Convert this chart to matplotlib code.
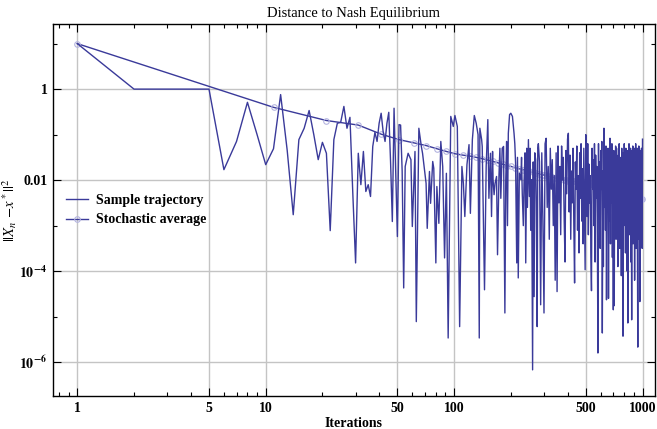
import matplotlib
matplotlib.use('Agg')
import matplotlib.pyplot as plt
import numpy as np
from matplotlib.ticker import FixedLocator, FixedFormatter, NullFormatter

# sample trajectory, iterations 1..280 (read point by point, log10 of the distance)
head_n = [1, 2, 3, 4, 5, 6, 7, 8, 9, 10,
          11, 12, 13, 14, 15, 16, 17, 18, 19, 20,
          21, 22, 23, 24, 25, 26, 27, 28, 29, 30,
          31, 32, 33, 34, 35, 36, 37, 38, 39, 40,
          41, 42, 43, 44, 45, 46, 47, 48, 49, 50,
          51, 52, 53, 54, 55, 57, 59, 60, 62, 63,
          65, 67, 68, 69, 71, 72, 74, 75, 77, 78,
          80, 81, 83, 85, 87, 89, 91, 93, 96, 99,
          101, 104, 107, 110, 112, 114, 117, 120, 122, 125,
          128, 131, 134, 136, 137, 140, 141, 145, 148, 151,
          153, 156, 158, 160, 161, 163, 165, 168, 170, 173,
          175, 177, 180, 183, 186, 188, 190, 192, 194, 197,
          200, 204, 208, 210, 212, 215, 217, 219,
          222, 226, 228, 230, 233, 235, 238, 240, 243, 245,
          248, 251, 253, 255, 258, 261, 263, 266, 268, 271,
          273, 276, 278, 280]
head_exp = [1.0, 0.0, 0.0, 0.0, 0.0, -1.77, -1.15, -0.29, -1.0, -1.66,
            -1.31, -0.12, -1.34, -2.76, -1.11, -0.86, -0.47, -1.0, -1.55, -1.17,
            -1.41, -3.11, -1.11, -0.75, -0.73, -0.38, -0.86, -0.62, -2.3, -3.82,
            -1.41, -2.1, -1.37, -2.25, -2.1, -2.36, -1.26, -0.95, -1.15, -0.75,
            -0.53, -0.93, -1.15, -0.75, -0.51, -1.6, -2.91, -0.42, -1.8, -3.24,
            -0.78, -0.79, -1.8, -4.37, -1.70, -1.41, -1.55, -3.02, -1.37, -5.11,
            -0.86, -1.26, -1.41, -1.63, -2.07, -3.06, -1.81, -2.51, -1.59, -1.74,
            -3.82, -2.14, -2.95, -1.15, -1.70, -3.71, -1.85, -5.47, -0.60, -0.82,
            -0.58, -0.82, -5.22, -1.70, -2.07, -2.80, -1.66, -1.22, -2.73, -1.11,
            -0.58, -0.75, -1.0, -5.47, -0.86, -1.11, -1.26, -4.41, -1.70, -0.67,
            -2.40, -1.41, -2.8, -1.37, -1.99, -2.32, -2.07, -1.92, -3.64, -1.92,
            -1.3, -2.40, -1.30, -1.26, -4.92, -2.0, -1.15, -3.0, -0.97, -0.56,
            -0.53, -0.60, -0.97, -1.2, -1.63, -3.82, -1.5, -4.15,
            -1.85, -1.99, -1.5, -2.29, -3.0, -2.07, -1.4, -3.82, -1.30, -2.6,
            -1.11, -2.36, -1.3, -3.1, -1.99, -6.17, -1.6, -4.56, -1.4, -1.55,
            -2.5, -5.22, -1.3, -1.2]

# sample trajectory, every 4th iteration from 284 to 1000
tail_n = list(range(284, 1001, 4))
tail_exp = [-1.6, -4.74, -1.4, -2.9, -4.92, -1.2, -1.08, -2.6, -1.7, -3.3,
            -1.3, -2.2, -1.55, -3.0, -1.9, -4.2, -1.4, -4.45, -1.25, -2.5,
            -1.7, -3.2, -1.25, -2.0, -1.5, -2.9, -3.8, -1.35, -2.3, -1.1,
            -0.97, -2.7, -1.45, -3.3, -1.8, -2.5, -1.3, -3.0, -4.26, -1.6,
            -2.2, -1.25, -3.1, -1.9, -3.6, -1.4, -2.4, -1.2, -2.9, -1.75,
            -3.4, -1.3, -2.6, -3.97, -1.0, -1.5, -2.8, -1.2, -3.2, -1.65,
            -2.5, -1.9, -3.6, -4.43, -1.3, -2.2, -1.55, -3.0, -1.2, -3.8,
            -1.45, -2.4, -1.7, -3.3, -5.8, -1.2, -2.7, -1.6, -3.5, -1.35,
            -2.2, -1.15, -5.36, -1.8, -3.9, -0.86, -2.6, -1.5, -3.1, -1.25,
            -4.63, -1.7, -2.4, -1.3, -4.6, -1.9, -2.9, -1.08, -3.4, -1.5,
            -2.5, -1.2, -3.7, -1.75, -4.85, -1.35, -4.76, -1.6, -2.8, -1.25,
            -3.3, -1.30, -2.2, -1.8, -3.9, -1.45, -2.6, -1.2, -3.5, -1.7,
            -2.3, -1.5, -4.1, -1.3, -2.7, -1.85, -5.43, -1.4, -3.0, -1.2,
            -2.4, -1.65, -3.6, -1.3, -2.9, -1.9, -4.0, -1.35, -5.14, -1.55,
            -2.5, -1.2, -3.2, -1.75, -2.7, -1.3, -3.8, -1.6, -5.07, -1.35,
            -2.3, -1.25, -3.4, -1.9, -2.8, -1.3, -4.2, -1.5, -2.6, -1.2,
            -3.5, -1.7, -2.2, -1.3, -3.9, -5.67, -1.45, -2.9, -1.25, -3.3,
            -1.8, -4.67, -1.35, -2.4, -1.6, -3.1, -1.3, -2.7, -3.5, -1.1]

# stochastic average at iterations 1, 11, 21, ..., 991
avg_n = list(range(1, 1000, 10))
avg_exp = [1.0, -0.40, -0.69, -0.79, -0.99, -1.11, -1.18, -1.24, -1.31, -1.37,
           -1.42, -1.45, -1.47, -1.50, -1.53, -1.56, -1.59, -1.62, -1.65, -1.68,
           -1.70, -1.73, -1.75, -1.77, -1.79, -1.81, -1.83, -1.85, -1.86, -1.88,
           -1.89, -1.91, -1.92, -1.93, -1.95, -1.96, -1.97, -1.98, -1.99, -2.00,
           -2.01, -2.01, -2.02, -2.03, -2.03, -2.04, -2.04, -2.04, -2.05, -2.05,
           -2.05, -2.06, -2.07, -2.08, -2.09, -2.10, -2.11, -2.12, -2.13, -2.14,
           -2.15, -2.16, -2.17, -2.18, -2.20, -2.21, -2.22, -2.23, -2.24, -2.25,
           -2.26, -2.27, -2.28, -2.29, -2.30, -2.31, -2.31, -2.32, -2.33, -2.34,
           -2.34, -2.35, -2.36, -2.36, -2.37, -2.37, -2.38, -2.38, -2.39, -2.39,
           -2.40, -2.40, -2.40, -2.41, -2.41, -2.41, -2.42, -2.42, -2.42, -2.42]

x_major = [1, 5, 10, 50, 100, 500, 1000]
x_labels = ['1', '5', '10', '50', '100', '500', '1000']
y_major = [1e-6, 1e-4, 1e-2, 1]
y_labels = [r'$\mathbf{10^{-6}}$', r'$\mathbf{10^{-4}}$', '0.01', '1']

plt.rcParams['font.family'] = ['Liberation Serif', 'DejaVu Serif']
plt.rcParams['mathtext.fontset'] = 'stix'

blue = '#3a3a9a'
light = '#b4b4e0'

fig = plt.figure(figsize=(6.57, 4.29), dpi=100)
ax = fig.add_axes([53 / 657, 33 / 429, 602 / 657, 372 / 429])

traj_n = head_n + tail_n
traj_y = 10.0 ** np.array(head_exp + tail_exp)
avg_y = 10.0 ** np.array(avg_exp)

ax.plot(avg_n, avg_y, color=blue, lw=1.0, marker='o', ms=4, mfc='none',
        mec=light, mew=0.8, label='Stochastic average', zorder=3)
ax.plot(traj_n, traj_y, color=blue, lw=1.0, label='Sample trajectory', zorder=4)

ax.set_xscale('log')
ax.set_yscale('log')
ax.set_xlim(0.743, 1165)
ax.set_ylim(1.8e-7, 27)

ax.xaxis.set_major_locator(FixedLocator(x_major))
ax.xaxis.set_major_formatter(FixedFormatter(x_labels))
x_minor = [0.8, 0.9, 2, 3, 4, 6, 7, 8, 9, 20, 30, 40, 60, 70, 80, 90,
           200, 300, 400, 600, 700, 800, 900]
ax.xaxis.set_minor_locator(FixedLocator(x_minor))
ax.xaxis.set_minor_formatter(NullFormatter())

ax.yaxis.set_major_locator(FixedLocator(y_major))
ax.yaxis.set_major_formatter(FixedFormatter(y_labels))
ax.yaxis.set_minor_locator(FixedLocator([1e-7, 1e-5, 1e-3, 1e-1, 10]))
ax.yaxis.set_minor_formatter(NullFormatter())

ax.tick_params(which='both', direction='in', top=True, right=True, width=0.8,
               labelsize=10, pad=4)
ax.tick_params(which='major', length=6)
ax.tick_params(which='minor', length=3)
for lab in ax.get_xticklabels() + ax.get_yticklabels():
    lab.set_fontweight('bold')

ax.grid(True, which='major', color='#c4c4c4', lw=1.0, zorder=0)
ax.set_axisbelow(True)
for sp in ax.spines.values():
    sp.set_linewidth(1.0)

ax.set_title('Distance to Nash Equilibrium', fontsize=10.5, pad=5)
ax.set_xlabel('Iterations', fontsize=10, fontweight='bold', labelpad=2)
ax.set_ylabel(r'$||X_n\ {-}x^*||^2$', fontsize=10.5)
ax.yaxis.set_label_coords(-0.056, 0.5)

handles, labels = ax.get_legend_handles_labels()
ax.legend(handles[::-1], labels[::-1], loc='center left',
          bbox_to_anchor=(0.0, 0.5), frameon=False,
          prop={'weight': 'bold', 'size': 10}, handlelength=1.6,
          handletextpad=0.6, labelspacing=0.5)

fig.savefig('out.png', dpi=100)
